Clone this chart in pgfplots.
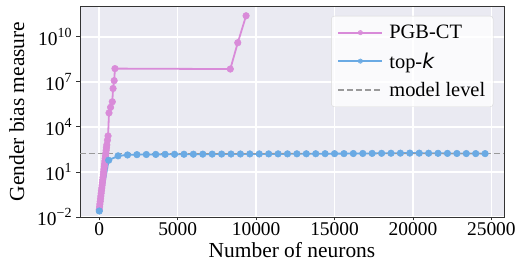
\documentclass[border=0pt]{standalone}
\usepackage{fontspec}
\setmainfont{Liberation Serif}
\newfontfamily\dejavu{DejaVu Sans}
\usepackage{pgfplots}
\pgfplotsset{compat=1.18}
\definecolor{bg}{HTML}{EAEAF2}
\definecolor{pgb}{HTML}{D98BD9}
\definecolor{topk}{HTML}{6AAAE4}
\definecolor{lvl}{HTML}{9A9A9A}
\begin{document}
\begin{tikzpicture}
\begin{axis}[
  name=ax,
  scale only axis, width=424bp, height=211bp,
  ymode=log, xmin=-1229, xmax=25805, ymin=1e-2, ymax=1.12e12,
  axis background/.style={fill=bg},
  grid=major, major grid style={white, line width=1.6bp},
  axis line style={black!80, line width=0.9bp},
  tick align=outside, major tick length=3.5bp, minor tick num=0,
  tick style={black!80, line width=0.8bp},
  xtick pos=bottom, ytick pos=left,
  xtick={0,5000,10000,15000,20000,25000},
  ytick={1e-2,1e1,1e4,1e7,1e10},
  yticklabels={10\textsuperscript{\fontsize{14}{16}\selectfont −2},10\textsuperscript{\fontsize{14}{16}\selectfont 1},10\textsuperscript{\fontsize{14}{16}\selectfont 4},10\textsuperscript{\fontsize{14}{16}\selectfont 7},10\textsuperscript{\fontsize{14}{16}\selectfont 10}},
  scaled x ticks=false,
  xticklabel style={/pgf/number format/1000 sep={}, /pgf/number format/assume math mode=true, yshift=1.5bp},
  yticklabel style={xshift=-1bp},
  ticklabel style={font=\fontsize{19.5}{22}\selectfont},
  label style={font=\fontsize{21.5}{24}\selectfont},
  xlabel={Number of neurons}, ylabel={Gender bias measure},
  xlabel style={yshift=0bp}, ylabel style={yshift=6bp},
  legend style={at={(0.975,0.953)}, anchor=north east, rounded corners=3bp, draw=black!15, fill=white, fill opacity=0.8, text opacity=1, font=\fontsize{20.5}{23}\selectfont, row sep=8.5bp, inner xsep=6bp, inner ysep=7bp, /tikz/every odd column/.append style={column sep=4bp}},
  legend cell align=left,
  legend image code/.code={\draw[mark size=2.2bp, mark repeat=2, mark phase=2] plot coordinates {(0cm,0cm) (0.78cm,0cm) (1.56cm,0cm)};},
]
\addplot[pgb, line width=1.8bp, mark=*, mark size=3.3bp, mark options={draw=pgb, fill=pgb, line width=0.5bp}] coordinates {
(0,0.0316) (20,0.0478) (40,0.0722) (60,0.109) (80,0.165) (100,0.249) (120,0.376) (140,0.568) (160,0.858) (180,1.30) (200,1.96) (220,2.96) (240,4.47) (260,6.75) (280,10.2) (300,15.4) (320,23.3) (340,35.2) (360,53.1) (380,80.2) (400,121) (420,183) (440,277) (460,418) (480,631)
(520,1300) (560,2500) (620,8.5e4) (720,2e5) (830,4.7e5) (880,3.6e6) (950,1.2e7) (1000,7.6e7) (8355,7.1e7) (8830,4e9) (9360,2.5e11)
};
\addlegendentry{PGB-CT}
\addplot[topk, line width=1.8bp, mark=*, mark size=3.3bp, mark options={draw=topk, fill=topk, line width=0.5bp}] coordinates {
(0,0.025) (600,60) (1200,118) (1800,135) (2400,142) (3000,145) (3600,147) (4200,149) (4800,150) (5400,151) (6000,152) (6600,153) (7200,154) (7800,155) (8400,156) (9000,157) (9600,158) (10200,158) (10800,159) (11400,160) (12000,160) (12600,161) (13200,162) (13800,163) (14400,164) (15000,165) (15600,166) (16200,168) (16800,170) (17400,172) (18000,174) (18600,176) (19200,178) (19800,180) (20400,178) (21000,176) (21600,174) (22200,172) (22800,170) (23400,168) (24000,167) (24600,166)
};
\addlegendentry{top-{\dejavu\itshape k}}
\addplot[lvl, line width=1.6bp, dash pattern=on 6bp off 3bp] coordinates {(-1229,170) (25805,170)};
\addlegendentry{model level}
\end{axis}
\pgfresetboundingbox
\path ([xshift=-80bp,yshift=-54bp]ax.south west) rectangle ([xshift=13bp,yshift=6bp]ax.north east);
\end{tikzpicture}
\end{document}
